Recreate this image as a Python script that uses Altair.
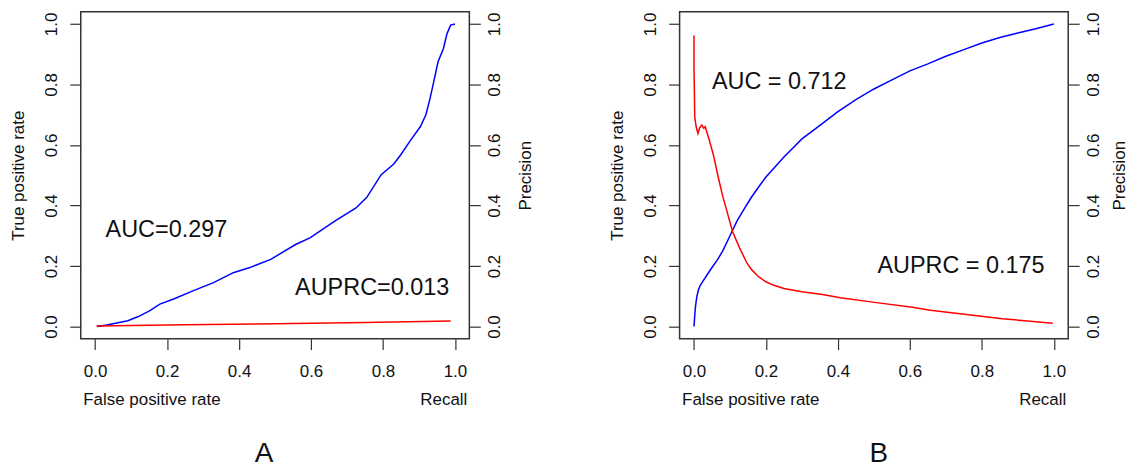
import altair as alt
import pandas as pd

# ---------------- Panel A ----------------
a_fpr = [0.005, 0.032, 0.06, 0.091, 0.12, 0.151, 0.18, 0.22, 0.27, 0.329, 0.384, 0.428,
         0.488, 0.557, 0.597, 0.666, 0.725, 0.755, 0.795, 0.83, 0.849, 0.874, 0.904,
         0.919, 0.93, 0.939, 0.953, 0.968, 0.978, 0.988, 1.0]
a_tpr = [0.0, 0.005, 0.012, 0.019, 0.033, 0.052, 0.074, 0.092, 0.117, 0.145, 0.178, 0.194,
         0.222, 0.271, 0.293, 0.348, 0.392, 0.427, 0.502, 0.537, 0.567, 0.611, 0.661,
         0.699, 0.75, 0.798, 0.875, 0.919, 0.968, 0.996, 1.0]
a_recall = [0.004, 0.25, 0.5, 0.75, 0.988]
a_precision = [0.002, 0.006, 0.009, 0.013, 0.018]

# ---------------- Panel B ----------------
b_fpr = [0.0, 0.002, 0.004, 0.008, 0.012, 0.017, 0.025, 0.037, 0.05, 0.065, 0.08, 0.1,
         0.12, 0.14, 0.16, 0.18, 0.2, 0.225, 0.25, 0.275, 0.3, 0.35, 0.4, 0.45, 0.5,
         0.55, 0.6, 0.65, 0.7, 0.75, 0.8, 0.85, 0.9, 0.95, 1.0]
b_tpr = [0.0, 0.035, 0.065, 0.1, 0.12, 0.135, 0.15, 0.172, 0.195, 0.22, 0.25, 0.3,
         0.35, 0.39, 0.428, 0.462, 0.494, 0.527, 0.56, 0.59, 0.62, 0.665, 0.71, 0.75,
         0.785, 0.815, 0.845, 0.868, 0.893, 0.915, 0.937, 0.955, 0.97, 0.984, 1.0]
b_recall = [0.0, 0.0, 0.001, 0.002, 0.006, 0.011, 0.016, 0.022, 0.027, 0.031, 0.041, 0.054,
            0.068, 0.08, 0.092, 0.107, 0.127, 0.147, 0.16, 0.18, 0.2, 0.22, 0.25, 0.3,
            0.357, 0.407, 0.507, 0.607, 0.657, 0.757, 0.857, 0.997]
b_precision = [0.962, 0.85, 0.787, 0.693, 0.66, 0.638, 0.657, 0.666, 0.655, 0.66, 0.622,
               0.567, 0.49, 0.43, 0.379, 0.314, 0.259, 0.21, 0.188, 0.164, 0.148, 0.137,
               0.126, 0.115, 0.106, 0.095, 0.079, 0.064, 0.054, 0.04, 0.026, 0.011]

# annotations
a_labels = ["AUC=0.297", "AUPRC=0.013"]
a_label_x = [0.198, 0.77]
a_label_y = [0.32, 0.127]
b_labels = ["AUC = 0.712", "AUPRC = 0.175"]
b_label_x = [0.237, 0.742]
b_label_y = [0.809, 0.199]

TICKS = [0.0, 0.2, 0.4, 0.6, 0.8, 1.0]
DOM = [-0.04, 1.04]
W, H = 390, 328
FONT = "Liberation Sans"
AX_COLOR = "#333333"
FS = 17


def axis_common():
    return dict(values=TICKS, format=".1f", grid=False, domain=False,
                tickSize=11, tickColor=AX_COLOR, tickWidth=1.2,
                labelFont=FONT, labelFontSize=FS, labelColor="#111111",
                titleFont=FONT, titleFontSize=FS, titleColor="#111111",
                titleFontWeight="normal")


def panel(fpr, tpr, rec, prec, labels, lx, ly, letter, dx, right_title_x):
    roc = pd.DataFrame({"x": fpr, "y": tpr, "i": list(range(len(fpr)))})
    pr = pd.DataFrame({"x": rec, "y": prec, "i": list(range(len(rec)))})
    ann = pd.DataFrame({"x": lx, "y": ly, "t": labels})

    xs = alt.Scale(domain=DOM, nice=False, zero=False)
    ys = alt.Scale(domain=DOM, nice=False, zero=False)
    xaxis = alt.Axis(title="False positive rate", labelPadding=14,
                     titleAnchor="start", titleAlign="left", titleX=2, titleY=61,
                     titleBaseline="middle", labelAngle=0, **axis_common())
    yleft = alt.Axis(orient="left", title="True positive rate", labelAngle=270,
                     labelAlign="center", labelBaseline="bottom", labelPadding=9,
                     titleAngle=270, titleX=-62, titleY=H / 2, titleAlign="center",
                     titleBaseline="middle", **axis_common())
    yright = alt.Axis(orient="right", title="Precision", labelAngle=270,
                      labelAlign="center", labelBaseline="top", labelPadding=6,
                      titleAngle=270, titleX=right_title_x, titleY=H / 2,
                      titleAlign="center", titleBaseline="middle", **axis_common())

    roc_line = alt.Chart(roc).mark_line(color="#0000ff", strokeWidth=1.5).encode(
        x=alt.X("x:Q", scale=xs, axis=xaxis),
        y=alt.Y("y:Q", scale=ys, axis=yleft),
        order="i:Q")
    pr_line = alt.Chart(pr).mark_line(color="#ff0000", strokeWidth=1.5).encode(
        x=alt.X("x:Q", scale=xs, axis=xaxis),
        y=alt.Y("y:Q", scale=ys, axis=yright),
        order="i:Q")
    txt = alt.Chart(ann).mark_text(font=FONT, fontSize=23.5, color="#111111",
                                   baseline="middle").encode(
        x=alt.X("x:Q", scale=xs, axis=xaxis),
        y=alt.Y("y:Q", scale=ys, axis=None),
        text="t:N")
    recall = alt.Chart(pd.DataFrame({"t": ["Recall"]})).mark_text(
        font=FONT, fontSize=FS, color="#111111", align="right", baseline="middle").encode(
        x=alt.value(W - 2), y=alt.value(H + 62), text="t:N")

    return alt.layer(roc_line, pr_line, txt, recall).resolve_scale(
        y="independent").properties(
        width=W, height=H,
        title=alt.TitleParams(letter, orient="bottom", anchor="middle", font=FONT,
                              fontSize=28, fontWeight="normal", color="#111111",
                              dx=dx, offset=32))


chart = alt.hconcat(
    panel(a_fpr, a_tpr, a_recall, a_precision, a_labels, a_label_x, a_label_y, "A", -11, 56),
    panel(b_fpr, b_tpr, b_recall, b_precision, b_labels, b_label_x, b_label_y, "B", 5, 51),
    spacing=74,
).properties(
    padding={"left": 1, "top": 2, "right": 0, "bottom": 0}
).configure_view(stroke=AX_COLOR, strokeWidth=1.5)

chart.save("out.html", embed_options={"renderer": "svg", "actions": False})
